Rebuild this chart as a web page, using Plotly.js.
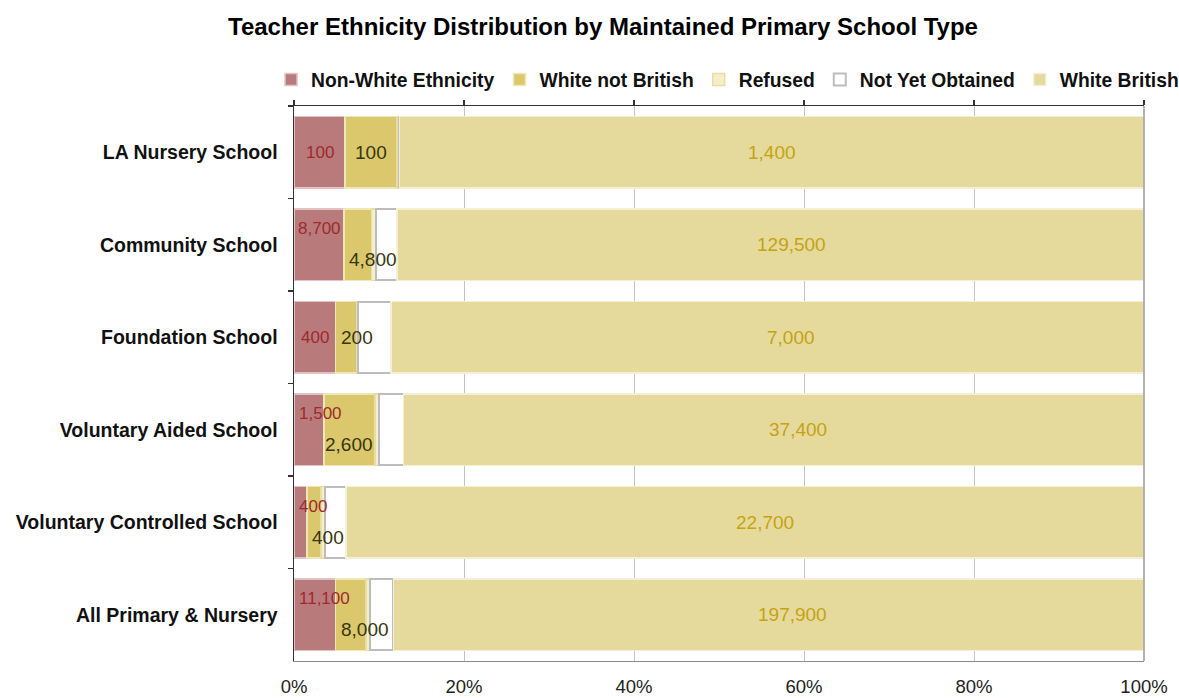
<!DOCTYPE html>
<html>
<head>
<meta charset="utf-8">
<script src="https://cdn.plot.ly/plotly-3.0.1.min.js"></script>
<style>html,body{margin:0;padding:0;background:#fff;}</style>
</head>
<body>
<div id="chart" style="width:1179px;height:698px;"></div>
<script>
// ---- Data (percent of teachers in each school type) ----
const categories = ['LA Nursery School', 'Community School', 'Foundation School',
  'Voluntary Aided School', 'Voluntary Controlled School', 'All Primary & Nursery'];
const nonWhitePct        = [6.0, 5.9, 4.9, 3.5, 1.5, 4.9];
const whiteNotBritishPct = [6.1, 3.2, 2.5, 6.05, 1.7, 3.55];
const refusedPct         = [0.3, 0.55, 0.1, 0.45, 0.5, 0.5];
const notYetObtainedPct  = [0.0, 2.45, 3.9, 2.9, 2.4, 2.75];
const whiteBritishPct    = [87.6, 87.9, 88.6, 87.1, 93.9, 88.3];

// ---- Data labels (teacher counts, rounded to hundreds) ----
const nonWhiteCount        = [100, 8700, 400, 1500, 400, 11100];
const whiteNotBritishCount = [100, 4800, 200, 2600, 400, 8000];
const whiteBritishCount    = [1400, 129500, 7000, 37400, 22700, 197900];

const xTickVals = [0, 20, 40, 60, 80, 100];
const xTickText = ['0%', '20%', '40%', '60%', '80%', '100%'];

const FONT = '"Liberation Sans", Arial, sans-serif';
const W = 1179, H = 698;
const M = {l: 294, r: 35, t: 106, b: 37, autoexpand: false};
const pxPerPct = (W - M.l - M.r) / 100;

function mkBar(name, vals, fill, line, lw) {
  return {
    type: 'bar', orientation: 'h', name: name,
    x: vals, y: categories,
    marker: {color: fill, line: {color: line, width: lw}},
    hoverinfo: 'name+x'
  };
}

const traces = [
  mkBar('Non-White Ethnicity', nonWhitePct, '#b97a7c', '#e2c3c3', 1.5),
  mkBar('White not British', whiteNotBritishPct, '#dbc76c', '#f0e7b8', 1.5),
  mkBar('Refused', refusedPct, '#f5eecb', '#e9dda2', 1.5),
  mkBar('Not Yet Obtained', notYetObtainedPct, '#ffffff', '#bdbdbd', 2),
  mkBar('White British', whiteBritishPct, '#e6d99c', '#f4efd6', 1.5),
  {type: 'scatter', x: [], y: [], xaxis: 'x2', showlegend: false, hoverinfo: 'skip'}
];

function fmt(n) { return n.toLocaleString('en-US'); }
function textW(s, size) {
  let w = 0;
  for (const c of s) w += (c === ',' ? 0.278 : 0.556);
  return w * size;
}

const annotations = [];
for (let i = 0; i < categories.length; i++) {
  const nw = nonWhitePct[i], wnb = whiteNotBritishPct[i];
  // Non-white label
  const t1 = fmt(nonWhiteCount[i]);
  const w1 = textW(t1, 17);
  const seg1 = nw * pxPerPct;
  let x1, a1, left1, right1;
  if (w1 + 4 <= seg1) { x1 = nw / 2; a1 = 'center'; left1 = x1 * pxPerPct - w1 / 2; }
  else { x1 = 3 / pxPerPct; a1 = 'left'; left1 = 3; }
  right1 = left1 + w1;
  // White not British label
  const t2 = fmt(whiteNotBritishCount[i]);
  const w2 = textW(t2, 19);
  const seg2 = wnb * pxPerPct;
  let x2, a2, left2;
  if (w2 + 2 <= seg2) { x2 = nw + wnb / 2; a2 = 'center'; left2 = x2 * pxPerPct - w2 / 2; }
  else { x2 = nw + 3 / pxPerPct; a2 = 'left'; left2 = x2 * pxPerPct + 2; }
  const crowded = right1 + 9 > left2;
  annotations.push({x: x1, y: categories[i], xref: 'x', yref: 'y', text: t1, showarrow: false,
    xanchor: a1, yshift: crowded ? 16 : 0,
    font: {family: FONT, size: 17, color: '#9e2a2d'}});
  annotations.push({x: x2, y: categories[i], xref: 'x', yref: 'y', text: t2, showarrow: false,
    xanchor: a2, yshift: crowded ? -15 : 0,
    font: {family: FONT, size: 19, color: '#38360c'}});
  // White British label (centred in its segment, nudged right past the white box)
  const wbStart = 100 - whiteBritishPct[i];
  annotations.push({x: wbStart + whiteBritishPct[i] / 2 + Math.min(notYetObtainedPct[i], 2.8),
    y: categories[i], xref: 'x', yref: 'y', text: fmt(whiteBritishCount[i]), showarrow: false,
    xanchor: 'center', font: {family: FONT, size: 19, color: '#c4a412'}});
}

const layout = {
  width: W, height: H,
  margin: M,
  paper_bgcolor: '#ffffff', plot_bgcolor: '#ffffff',
  font: {family: FONT, color: '#000'},
  title: {
    text: 'Teacher Ethnicity Distribution by Maintained Primary School Type',
    font: {family: FONT, size: 24, weight: 'bold', color: '#000'},
    xref: 'container', yref: 'container', x: 603 / W, y: 1 - 27 / H,
    xanchor: 'center', yanchor: 'middle'
  },
  barmode: 'stack',
  bargap: 0.23,
  showlegend: true,
  legend: {
    orientation: 'h', x: -0.027, xanchor: 'left', y: 1.047, yanchor: 'middle',
    font: {family: FONT, size: 19.3, weight: 'bold', color: '#111'},
    traceorder: 'normal', bgcolor: 'rgba(0,0,0,0)'
  },
  xaxis: {
    range: [0, 100], tickvals: xTickVals, ticktext: xTickText,
    showgrid: true, gridcolor: '#c4c4c4', gridwidth: 1,
    zeroline: false, showline: true, linecolor: '#8a8a8a', linewidth: 1,
    ticks: '', ticklabelstandoff: 9,
    tickfont: {family: FONT, size: 18.5, color: '#222'},
    fixedrange: true
  },
  xaxis2: {
    overlaying: 'x', side: 'top', anchor: 'y', range: [0, 100],
    tickvals: xTickVals, showticklabels: false, showgrid: false, zeroline: false,
    showline: true, linecolor: '#333', linewidth: 1.5,
    ticks: 'outside', ticklen: 5, tickcolor: '#333', tickwidth: 1.5,
    fixedrange: true
  },
  yaxis: {
    type: 'category', categoryorder: 'array', categoryarray: categories,
    autorange: 'reversed',
    showline: true, linecolor: '#333', linewidth: 1.5,
    ticks: 'outside', tickson: 'boundaries', ticklen: 5, tickcolor: '#333', tickwidth: 1.5,
    ticklabelstandoff: 11,
    tickfont: {family: FONT, size: 19.5, weight: 'bold', color: '#111'},
    showgrid: false, zeroline: false, fixedrange: true
  },
  shapes: [{type: 'line', xref: 'paper', yref: 'paper', x0: 1, x1: 1, y0: 0, y1: 1,
    line: {color: '#9a9a9a', width: 1.5}}],
  annotations: annotations
};

Plotly.newPlot('chart', traces, layout, {displayModeBar: false, staticPlot: true});
</script>
</body>
</html>
